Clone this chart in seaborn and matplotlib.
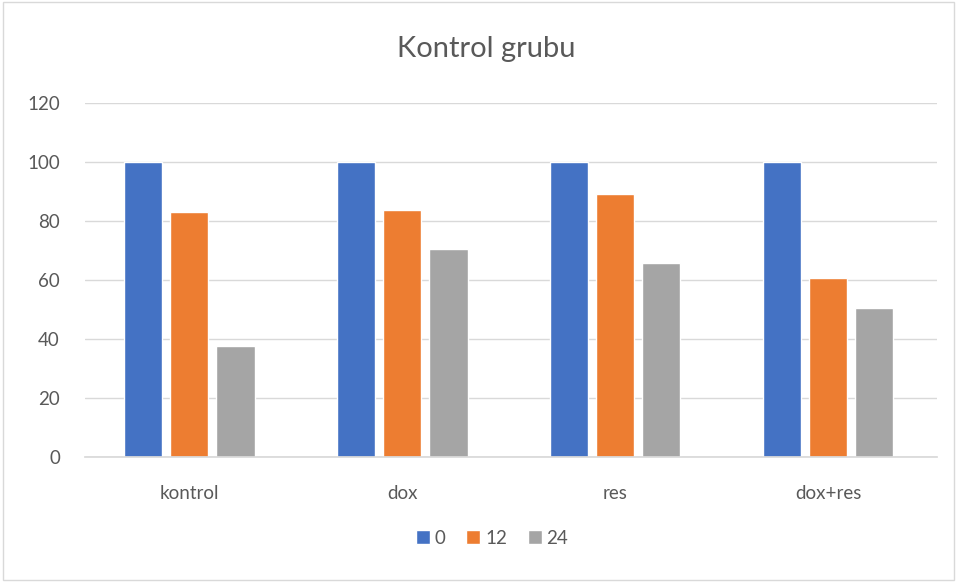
import seaborn as sns
import pandas as pd
import matplotlib.pyplot as plt

categories = ["kontrol", "dox", "res", "dox+res"]
series = ["0", "12", "24"]
vals_0 = [100, 100, 100, 100]
vals_12 = [83.0, 83.6, 89.0, 60.8]
vals_24 = [37.7, 70.5, 65.6, 50.6]

colors = ["#4472C4", "#ED7D31", "#A5A5A5"]

rows = []
for s, vals in zip(series, [vals_0, vals_12, vals_24]):
    for c, v in zip(categories, vals):
        rows.append({"grup": c, "saat": s, "deger": v})
df = pd.DataFrame(rows)

sns.set_theme(style="white")
plt.rcParams['font.family'] = ['Lato', 'DejaVu Sans']

fig = plt.figure(figsize=(9.57, 5.82), dpi=100)
ax = fig.add_axes([0.0888, 0.2148, 0.890, 0.6082])
sns.barplot(data=df, x="grup", y="deger", hue="saat", order=categories,
            hue_order=series, palette=colors, width=0.65, gap=0.17,
            saturation=1, ax=ax, legend=True)

ax.set_xlim(-0.49, 3.51)
ax.set_ylim(0, 120)
ax.set_yticks(range(0, 121, 20))
ax.yaxis.grid(True, color="#D9D9D9", linewidth=1)
ax.set_axisbelow(True)
for sp in ["top", "right", "left"]:
    ax.spines[sp].set_visible(False)
ax.spines["bottom"].set_color("#D9D9D9")
ax.tick_params(axis="both", length=0, colors="#595959", labelsize=13.5)
ax.tick_params(axis="y", pad=18)
ax.tick_params(axis="x", pad=20)
ax.set_xlabel("")
ax.set_ylabel("")
fig.text(0.508, 0.915, "Kontrol grubu", fontsize=21, color="#595959",
         ha="center", va="center")

leg = ax.legend(loc="center", bbox_to_anchor=(0.478, -0.23), ncol=3,
                frameon=False, fontsize=13.5, handlelength=0.75, handleheight=0.75,
                handletextpad=0.25, columnspacing=1.1)
for t in leg.get_texts():
    t.set_color("#595959")

fig.patches.append(plt.Rectangle((0.003, 0.003), 0.994, 0.994, transform=fig.transFigure,
                                 fill=False, edgecolor="#D9D9D9", linewidth=1))

fig.savefig("out.png", dpi=100)
